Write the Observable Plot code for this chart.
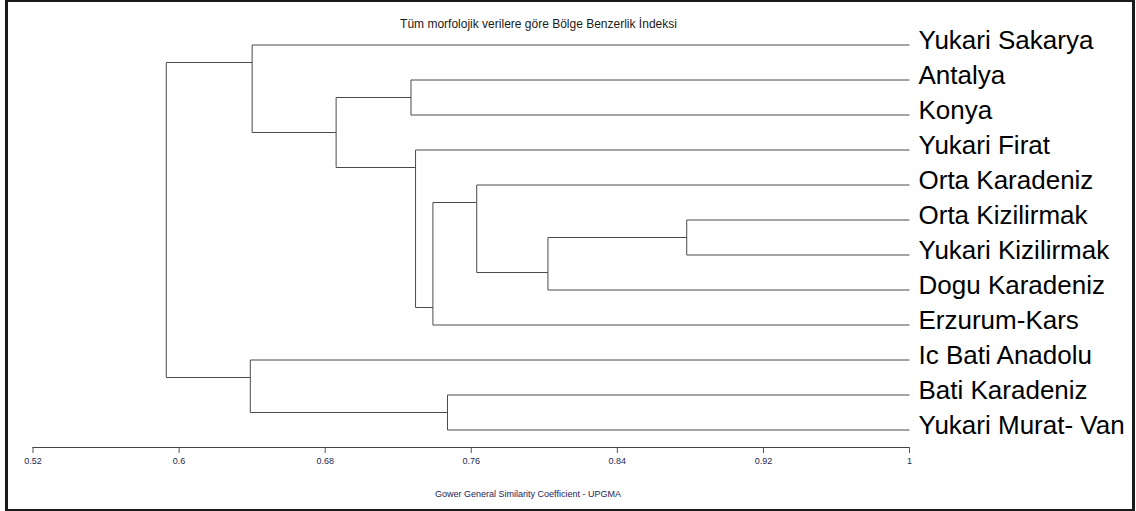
<!DOCTYPE html>
<html><head><meta charset="utf-8">
<script src="https://cdn.jsdelivr.net/npm/d3@7"></script>
<script src="https://cdn.jsdelivr.net/npm/@observablehq/plot@0.6"></script>
<style>
html,body{margin:0;padding:0;background:#fff;width:1136px;height:511px;overflow:hidden;font-family:"Liberation Sans",Arial,sans-serif;}
#frame{position:absolute;left:5px;top:0;width:1130px;height:511px;box-sizing:border-box;border:2px solid #1a1a1a;border-left-width:3px;border-right-width:3px;}
#chart{position:absolute;left:0;top:0;}
#title{position:absolute;left:0;width:1077px;top:17px;text-align:center;font-size:12px;line-height:14px;color:#1a1a1a;white-space:nowrap;}
#caption{position:absolute;left:0;width:1056px;top:489px;text-align:center;font-size:9px;line-height:11px;color:#23235a;white-space:nowrap;}
</style></head><body>
<div id="frame"></div>
<div id="chart"></div>
<div id="title">Tüm morfolojik verilere göre Bölge Benzerlik İndeksi</div>
<div id="caption">Gower General Similarity Coefficient - UPGMA</div>
<script>
// Leaves in dendrogram order (top to bottom)
const leaves = ["Yukari Sakarya","Antalya","Konya","Yukari Firat","Orta Karadeniz","Orta Kizilirmak","Yukari Kizilirmak","Dogu Karadeniz","Erzurum-Kars","Ic Bati Anadolu","Bati Karadeniz","Yukari Murat- Van"];
// UPGMA merges: node name, upper child, lower child, similarity level
const nodeNames  = ["n1","n2","n3","n4","n5","n6","n7","n8","n9","n10","root"];
const upperChild = ["Orta Kizilirmak","n1","Bati Karadeniz","Orta Karadeniz","n4","Yukari Firat","Antalya","n7","Yukari Sakarya","Ic Bati Anadolu","n9"];
const lowerChild = ["Yukari Kizilirmak","Dogu Karadeniz","Yukari Murat- Van","n2","Erzurum-Kars","n5","Konya","n6","n8","n3","n10"];
const similarity = [0.878,0.802,0.747,0.763,0.739,0.7295,0.727,0.686,0.640,0.639,0.593];
const xTicks = [0.52,0.6,0.68,0.76,0.84,0.92,1];

// Layout: leaves at integer rows; a node joins its parent at the gap between its two subtrees
const info = new Map();
leaves.forEach((name,i)=>info.set(name,{x:1,y:i,lo:i,hi:i}));
nodeNames.forEach((n,k)=>{
  const U=info.get(upperChild[k]), L=info.get(lowerChild[k]);
  info.set(n,{x:similarity[k],y:(U.hi+L.lo)/2,lo:Math.min(U.lo,L.lo),hi:Math.max(U.hi,L.hi),U,L});
});
const segments = [];
nodeNames.forEach(n=>{
  const d=info.get(n);
  segments.push({x1:d.x,y1:d.U.y,x2:d.x,y2:d.L.y});
  segments.push({x1:d.U.x,y1:d.U.y,x2:d.x,y2:d.U.y});
  segments.push({x1:d.L.x,y1:d.L.y,x2:d.x,y2:d.L.y});
});
const yDomain=[-0.5,leaves.length-0.5];

const chart = Plot.plot({
  width:1136,height:480,
  marginTop:27,marginBottom:33,marginLeft:32.5,marginRight:227,
  x:{domain:[0.52,1]},
  y:{domain:yDomain,reverse:true,axis:null},
  style:{background:"transparent",fontFamily:"Liberation Sans, Arial, sans-serif",overflow:"visible"},
  marks:[
    Plot.ruleY([yDomain[1]],{stroke:"#444"}),
    Plot.axisX({ticks:xTicks,tickFormat:d=>String(d),tickSize:6,tickPadding:4,fontSize:9,stroke:"#555",fill:"#26264f",label:null}),
    Plot.link(segments,{x1:"x1",y1:"y1",x2:"x2",y2:"y2",stroke:"#4a4a4a",strokeWidth:1}),
    Plot.text(leaves,{x:()=>1,y:(d,i)=>i,text:d=>d,textAnchor:"start",dx:9,dy:-4.3,fontSize:26,fill:"#000"})
  ]
});
document.getElementById("chart").appendChild(chart);
</script>
</body></html>
